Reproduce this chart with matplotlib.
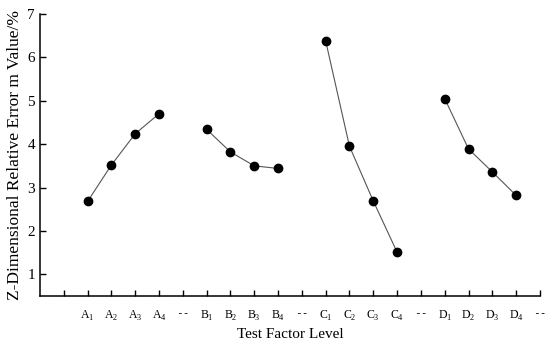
import matplotlib
matplotlib.use("Agg")
import matplotlib.pyplot as plt

plt.rcParams['font.family'] = ['Liberation Serif', 'DejaVu Serif']
plt.rcParams['mathtext.fontset'] = 'custom'
plt.rcParams['mathtext.rm'] = 'Liberation Serif'

factors = ['A', 'B', 'C', 'D']
A_vals = [2.68, 3.52, 4.24, 4.70]
B_vals = [4.34, 3.82, 3.50, 3.44]
C_vals = [6.38, 3.95, 2.69, 1.51]
D_vals = [5.05, 3.89, 3.36, 2.82]
series = [A_vals, B_vals, C_vals, D_vals]

tick_labels = ['']
for f in factors:
    tick_labels += [r'$\mathrm{%s}_{%d}$' % (f, i) for i in range(1, 5)]
    tick_labels.append('--')

fig = plt.figure(figsize=(5.5, 3.46), dpi=100)
ax = fig.add_axes([0.0727, 0.1445, 0.909, 0.815])

for k, vals in enumerate(series):
    xs = [2 + 5 * k + i for i in range(len(vals))]
    ax.plot(xs, vals, color='#555555', lw=0.8, marker='o', ms=6,
            markerfacecolor='black', markeredgecolor='black')

ax.set_xlim(0, 21)
ax.set_ylim(0.5, 7)
ax.set_xticks(range(1, 22))
ax.set_xticklabels(tick_labels, fontsize=8.5)
for lab in ax.get_xticklabels():
    if lab.get_text() == '--':
        lab.set_family('DejaVu Sans Mono')
        lab.set_fontsize(8)
ax.set_yticks(range(1, 8))
ax.tick_params(axis='y', labelsize=11, direction='in', length=4, width=1)
ax.tick_params(axis='x', direction='in', length=4, width=1, pad=9)
for s in ['top', 'right']:
    ax.spines[s].set_visible(False)
for s in ['left', 'bottom']:
    ax.spines[s].set_linewidth(1.1)

ax.set_xlabel('Test Factor Level', fontsize=11, labelpad=4)
ax.set_ylabel('Z-Dimensional Relative Error m Value/%', fontsize=12.5, labelpad=3)

fig.savefig('out.png', dpi=100)
